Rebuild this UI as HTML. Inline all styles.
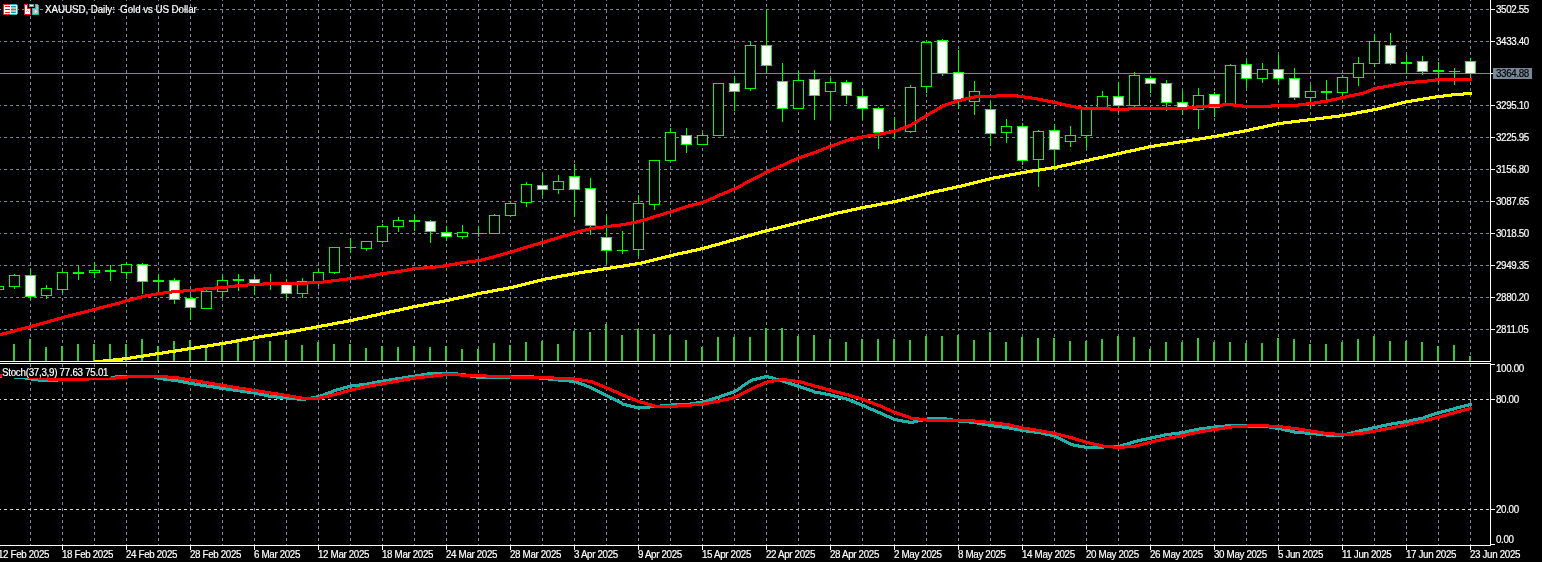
<!DOCTYPE html>
<html lang="en"><head><meta charset="utf-8"><title>XAUUSD, Daily</title>
<style>
html,body{margin:0;padding:0;background:#000;}
body{width:1542px;height:562px;overflow:hidden;position:relative;font-family:"Liberation Sans",sans-serif;}
svg{position:absolute;left:0;top:0;display:block}
#tx{position:absolute;left:0;top:0;width:1542px;height:562px;will-change:transform;transform:translateZ(0);}
.t{position:absolute;color:#fff;font-size:9.8px;line-height:11px;white-space:pre;letter-spacing:-0.35px;-webkit-text-stroke:0.18px currentColor;transform:scaleY(1.04);transform-origin:0 8.9px}
</style></head><body>
<svg width="1542" height="562" viewBox="0 0 1542 562" shape-rendering="crispEdges">
<rect width="1542" height="562" fill="#000"/>
<g stroke="#778899" stroke-width="1" stroke-dasharray="3 3" stroke-dashoffset="2" fill="none">
<line x1="30.5" y1="0" x2="30.5" y2="545"/>
<line x1="62.5" y1="0" x2="62.5" y2="545"/>
<line x1="94.5" y1="0" x2="94.5" y2="545"/>
<line x1="126.5" y1="0" x2="126.5" y2="545"/>
<line x1="158.5" y1="0" x2="158.5" y2="545"/>
<line x1="190.5" y1="0" x2="190.5" y2="545"/>
<line x1="222.5" y1="0" x2="222.5" y2="545"/>
<line x1="254.5" y1="0" x2="254.5" y2="545"/>
<line x1="286.5" y1="0" x2="286.5" y2="545"/>
<line x1="318.5" y1="0" x2="318.5" y2="545"/>
<line x1="350.5" y1="0" x2="350.5" y2="545"/>
<line x1="382.5" y1="0" x2="382.5" y2="545"/>
<line x1="414.5" y1="0" x2="414.5" y2="545"/>
<line x1="446.5" y1="0" x2="446.5" y2="545"/>
<line x1="478.5" y1="0" x2="478.5" y2="545"/>
<line x1="510.5" y1="0" x2="510.5" y2="545"/>
<line x1="542.5" y1="0" x2="542.5" y2="545"/>
<line x1="574.5" y1="0" x2="574.5" y2="545"/>
<line x1="606.5" y1="0" x2="606.5" y2="545"/>
<line x1="638.5" y1="0" x2="638.5" y2="545"/>
<line x1="670.5" y1="0" x2="670.5" y2="545"/>
<line x1="702.5" y1="0" x2="702.5" y2="545"/>
<line x1="734.5" y1="0" x2="734.5" y2="545"/>
<line x1="766.5" y1="0" x2="766.5" y2="545"/>
<line x1="798.5" y1="0" x2="798.5" y2="545"/>
<line x1="830.5" y1="0" x2="830.5" y2="545"/>
<line x1="862.5" y1="0" x2="862.5" y2="545"/>
<line x1="894.5" y1="0" x2="894.5" y2="545"/>
<line x1="926.5" y1="0" x2="926.5" y2="545"/>
<line x1="958.5" y1="0" x2="958.5" y2="545"/>
<line x1="990.5" y1="0" x2="990.5" y2="545"/>
<line x1="1022.5" y1="0" x2="1022.5" y2="545"/>
<line x1="1054.5" y1="0" x2="1054.5" y2="545"/>
<line x1="1086.5" y1="0" x2="1086.5" y2="545"/>
<line x1="1118.5" y1="0" x2="1118.5" y2="545"/>
<line x1="1150.5" y1="0" x2="1150.5" y2="545"/>
<line x1="1182.5" y1="0" x2="1182.5" y2="545"/>
<line x1="1214.5" y1="0" x2="1214.5" y2="545"/>
<line x1="1246.5" y1="0" x2="1246.5" y2="545"/>
<line x1="1278.5" y1="0" x2="1278.5" y2="545"/>
<line x1="1310.5" y1="0" x2="1310.5" y2="545"/>
<line x1="1342.5" y1="0" x2="1342.5" y2="545"/>
<line x1="1374.5" y1="0" x2="1374.5" y2="545"/>
<line x1="1406.5" y1="0" x2="1406.5" y2="545"/>
<line x1="1438.5" y1="0" x2="1438.5" y2="545"/>
<line x1="1470.5" y1="0" x2="1470.5" y2="545"/>
<line x1="0" y1="9.5" x2="1490" y2="9.5"/>
<line x1="0" y1="41.5" x2="1490" y2="41.5"/>
<line x1="0" y1="73.5" x2="1490" y2="73.5"/>
<line x1="0" y1="105.5" x2="1490" y2="105.5"/>
<line x1="0" y1="137.5" x2="1490" y2="137.5"/>
<line x1="0" y1="169.5" x2="1490" y2="169.5"/>
<line x1="0" y1="201.5" x2="1490" y2="201.5"/>
<line x1="0" y1="233.5" x2="1490" y2="233.5"/>
<line x1="0" y1="265.5" x2="1490" y2="265.5"/>
<line x1="0" y1="297.5" x2="1490" y2="297.5"/>
<line x1="0" y1="329.5" x2="1490" y2="329.5"/>
</g>
<g stroke="#d8d8d8" stroke-width="1" stroke-dasharray="3 3" stroke-dashoffset="2" fill="none">
<line x1="0" y1="399.5" x2="1490" y2="399.5"/>
<line x1="0" y1="509.5" x2="1490" y2="509.5"/>
</g>
<rect x="0" y="73" width="1490" height="1" fill="#778899"/>
<clipPath id="cm"><rect x="0" y="0" width="1490" height="361"/></clipPath>
<clipPath id="cs"><rect x="0" y="364" width="1490" height="181"/></clipPath>
<g clip-path="url(#cm)">
<rect x="13" y="344" width="2" height="17" fill="#32cd32"/>
<rect x="29" y="339" width="2" height="22" fill="#32cd32"/>
<rect x="45" y="347" width="2" height="14" fill="#32cd32"/>
<rect x="61" y="346" width="2" height="15" fill="#32cd32"/>
<rect x="77" y="344" width="2" height="17" fill="#32cd32"/>
<rect x="93" y="344" width="2" height="17" fill="#32cd32"/>
<rect x="109" y="344" width="2" height="17" fill="#32cd32"/>
<rect x="125" y="344" width="2" height="17" fill="#32cd32"/>
<rect x="141" y="339" width="2" height="22" fill="#32cd32"/>
<rect x="157" y="346" width="2" height="15" fill="#32cd32"/>
<rect x="173" y="341" width="2" height="20" fill="#32cd32"/>
<rect x="189" y="340" width="2" height="21" fill="#32cd32"/>
<rect x="205" y="347" width="2" height="14" fill="#32cd32"/>
<rect x="221" y="342" width="2" height="19" fill="#32cd32"/>
<rect x="237" y="342" width="2" height="19" fill="#32cd32"/>
<rect x="253" y="341" width="2" height="20" fill="#32cd32"/>
<rect x="269" y="341" width="2" height="20" fill="#32cd32"/>
<rect x="285" y="340" width="2" height="21" fill="#32cd32"/>
<rect x="301" y="345" width="2" height="16" fill="#32cd32"/>
<rect x="317" y="342" width="2" height="19" fill="#32cd32"/>
<rect x="333" y="344" width="2" height="17" fill="#32cd32"/>
<rect x="349" y="344" width="2" height="17" fill="#32cd32"/>
<rect x="365" y="348" width="2" height="13" fill="#32cd32"/>
<rect x="381" y="346" width="2" height="15" fill="#32cd32"/>
<rect x="397" y="347" width="2" height="14" fill="#32cd32"/>
<rect x="413" y="346" width="2" height="15" fill="#32cd32"/>
<rect x="429" y="347" width="2" height="14" fill="#32cd32"/>
<rect x="445" y="346" width="2" height="15" fill="#32cd32"/>
<rect x="461" y="349" width="2" height="12" fill="#32cd32"/>
<rect x="477" y="349" width="2" height="12" fill="#32cd32"/>
<rect x="493" y="343" width="2" height="18" fill="#32cd32"/>
<rect x="509" y="345" width="2" height="16" fill="#32cd32"/>
<rect x="525" y="342" width="2" height="19" fill="#32cd32"/>
<rect x="541" y="341" width="2" height="20" fill="#32cd32"/>
<rect x="557" y="344" width="2" height="17" fill="#32cd32"/>
<rect x="573" y="331" width="2" height="30" fill="#32cd32"/>
<rect x="589" y="332" width="2" height="29" fill="#32cd32"/>
<rect x="605" y="324" width="2" height="37" fill="#32cd32"/>
<rect x="621" y="335" width="2" height="26" fill="#32cd32"/>
<rect x="637" y="329" width="2" height="32" fill="#32cd32"/>
<rect x="653" y="334" width="2" height="27" fill="#32cd32"/>
<rect x="669" y="335" width="2" height="26" fill="#32cd32"/>
<rect x="685" y="340" width="2" height="21" fill="#32cd32"/>
<rect x="701" y="347" width="2" height="14" fill="#32cd32"/>
<rect x="717" y="337" width="2" height="24" fill="#32cd32"/>
<rect x="733" y="337" width="2" height="24" fill="#32cd32"/>
<rect x="749" y="337" width="2" height="24" fill="#32cd32"/>
<rect x="765" y="328" width="2" height="33" fill="#32cd32"/>
<rect x="781" y="328" width="2" height="33" fill="#32cd32"/>
<rect x="797" y="336" width="2" height="25" fill="#32cd32"/>
<rect x="813" y="335" width="2" height="26" fill="#32cd32"/>
<rect x="829" y="339" width="2" height="22" fill="#32cd32"/>
<rect x="845" y="342" width="2" height="19" fill="#32cd32"/>
<rect x="861" y="339" width="2" height="22" fill="#32cd32"/>
<rect x="877" y="339" width="2" height="22" fill="#32cd32"/>
<rect x="893" y="339" width="2" height="22" fill="#32cd32"/>
<rect x="909" y="340" width="2" height="21" fill="#32cd32"/>
<rect x="925" y="336" width="2" height="25" fill="#32cd32"/>
<rect x="941" y="336" width="2" height="25" fill="#32cd32"/>
<rect x="957" y="335" width="2" height="26" fill="#32cd32"/>
<rect x="973" y="340" width="2" height="21" fill="#32cd32"/>
<rect x="989" y="332" width="2" height="29" fill="#32cd32"/>
<rect x="1005" y="342" width="2" height="19" fill="#32cd32"/>
<rect x="1021" y="337" width="2" height="24" fill="#32cd32"/>
<rect x="1037" y="338" width="2" height="23" fill="#32cd32"/>
<rect x="1053" y="338" width="2" height="23" fill="#32cd32"/>
<rect x="1069" y="341" width="2" height="20" fill="#32cd32"/>
<rect x="1085" y="341" width="2" height="20" fill="#32cd32"/>
<rect x="1101" y="339" width="2" height="22" fill="#32cd32"/>
<rect x="1117" y="336" width="2" height="25" fill="#32cd32"/>
<rect x="1133" y="337" width="2" height="24" fill="#32cd32"/>
<rect x="1149" y="349" width="2" height="12" fill="#32cd32"/>
<rect x="1165" y="342" width="2" height="19" fill="#32cd32"/>
<rect x="1181" y="342" width="2" height="19" fill="#32cd32"/>
<rect x="1197" y="338" width="2" height="23" fill="#32cd32"/>
<rect x="1213" y="342" width="2" height="19" fill="#32cd32"/>
<rect x="1229" y="342" width="2" height="19" fill="#32cd32"/>
<rect x="1245" y="343" width="2" height="18" fill="#32cd32"/>
<rect x="1261" y="343" width="2" height="18" fill="#32cd32"/>
<rect x="1277" y="338" width="2" height="23" fill="#32cd32"/>
<rect x="1293" y="339" width="2" height="22" fill="#32cd32"/>
<rect x="1309" y="344" width="2" height="17" fill="#32cd32"/>
<rect x="1325" y="344" width="2" height="17" fill="#32cd32"/>
<rect x="1341" y="342" width="2" height="19" fill="#32cd32"/>
<rect x="1357" y="339" width="2" height="22" fill="#32cd32"/>
<rect x="1373" y="336" width="2" height="25" fill="#32cd32"/>
<rect x="1389" y="341" width="2" height="20" fill="#32cd32"/>
<rect x="1405" y="341" width="2" height="20" fill="#32cd32"/>
<rect x="1421" y="342" width="2" height="19" fill="#32cd32"/>
<rect x="1437" y="346" width="2" height="15" fill="#32cd32"/>
<rect x="1453" y="345" width="2" height="16" fill="#32cd32"/>
<rect x="1469" y="356" width="2" height="5" fill="#32cd32"/>
<rect x="-2" y="284" width="1" height="9" fill="#00ff00"/>
<rect x="-7" y="286" width="11" height="4" fill="#00ff00"/>
<rect x="-6" y="287" width="9" height="2" fill="#000"/>
<rect x="14" y="274" width="1" height="15" fill="#00ff00"/>
<rect x="9" y="275" width="11" height="12" fill="#00ff00"/>
<rect x="10" y="276" width="9" height="10" fill="#000"/>
<rect x="30" y="269" width="1" height="31" fill="#00ff00"/>
<rect x="25" y="275" width="11" height="22" fill="#00ff00"/>
<rect x="26" y="276" width="9" height="20" fill="#fff"/>
<rect x="46" y="285" width="1" height="14" fill="#00ff00"/>
<rect x="41" y="288" width="11" height="8" fill="#00ff00"/>
<rect x="42" y="289" width="9" height="6" fill="#000"/>
<rect x="62" y="271" width="1" height="22" fill="#00ff00"/>
<rect x="57" y="272" width="11" height="18" fill="#00ff00"/>
<rect x="58" y="273" width="9" height="16" fill="#000"/>
<rect x="78" y="266" width="1" height="14" fill="#00ff00"/>
<rect x="73" y="272" width="11" height="2" fill="#00ff00"/>
<rect x="94" y="262" width="1" height="16" fill="#00ff00"/>
<rect x="89" y="270" width="11" height="3" fill="#00ff00"/>
<rect x="90" y="271" width="9" height="1" fill="#000"/>
<rect x="110" y="265" width="1" height="16" fill="#00ff00"/>
<rect x="105" y="270" width="11" height="2" fill="#00ff00"/>
<rect x="126" y="262" width="1" height="17" fill="#00ff00"/>
<rect x="121" y="264" width="11" height="9" fill="#00ff00"/>
<rect x="122" y="265" width="9" height="7" fill="#000"/>
<rect x="142" y="263" width="1" height="31" fill="#00ff00"/>
<rect x="137" y="264" width="11" height="18" fill="#00ff00"/>
<rect x="138" y="265" width="9" height="16" fill="#fff"/>
<rect x="158" y="274" width="1" height="18" fill="#00ff00"/>
<rect x="153" y="280" width="11" height="2" fill="#00ff00"/>
<rect x="174" y="278" width="1" height="26" fill="#00ff00"/>
<rect x="169" y="280" width="11" height="20" fill="#00ff00"/>
<rect x="170" y="281" width="9" height="18" fill="#fff"/>
<rect x="190" y="295" width="1" height="25" fill="#00ff00"/>
<rect x="185" y="298" width="11" height="10" fill="#00ff00"/>
<rect x="186" y="299" width="9" height="8" fill="#fff"/>
<rect x="206" y="290" width="1" height="19" fill="#00ff00"/>
<rect x="201" y="291" width="11" height="18" fill="#00ff00"/>
<rect x="202" y="292" width="9" height="16" fill="#000"/>
<rect x="222" y="275" width="1" height="22" fill="#00ff00"/>
<rect x="217" y="280" width="11" height="12" fill="#00ff00"/>
<rect x="218" y="281" width="9" height="10" fill="#000"/>
<rect x="238" y="274" width="1" height="17" fill="#00ff00"/>
<rect x="233" y="279" width="11" height="2" fill="#00ff00"/>
<rect x="254" y="276" width="1" height="19" fill="#00ff00"/>
<rect x="249" y="279" width="11" height="7" fill="#00ff00"/>
<rect x="250" y="280" width="9" height="5" fill="#fff"/>
<rect x="270" y="274" width="1" height="16" fill="#00ff00"/>
<rect x="265" y="283" width="11" height="1" fill="#00ff00"/>
<rect x="286" y="279" width="1" height="19" fill="#00ff00"/>
<rect x="281" y="283" width="11" height="11" fill="#00ff00"/>
<rect x="282" y="284" width="9" height="9" fill="#fff"/>
<rect x="302" y="278" width="1" height="20" fill="#00ff00"/>
<rect x="297" y="281" width="11" height="13" fill="#00ff00"/>
<rect x="298" y="282" width="9" height="11" fill="#000"/>
<rect x="318" y="269" width="1" height="17" fill="#00ff00"/>
<rect x="313" y="272" width="11" height="12" fill="#00ff00"/>
<rect x="314" y="273" width="9" height="10" fill="#000"/>
<rect x="334" y="247" width="1" height="27" fill="#00ff00"/>
<rect x="329" y="247" width="11" height="26" fill="#00ff00"/>
<rect x="330" y="248" width="9" height="24" fill="#000"/>
<rect x="350" y="238" width="1" height="15" fill="#00ff00"/>
<rect x="345" y="247" width="11" height="1" fill="#00ff00"/>
<rect x="366" y="241" width="1" height="10" fill="#00ff00"/>
<rect x="361" y="241" width="11" height="8" fill="#00ff00"/>
<rect x="362" y="242" width="9" height="6" fill="#000"/>
<rect x="382" y="224" width="1" height="19" fill="#00ff00"/>
<rect x="377" y="226" width="11" height="16" fill="#00ff00"/>
<rect x="378" y="227" width="9" height="14" fill="#000"/>
<rect x="398" y="217" width="1" height="15" fill="#00ff00"/>
<rect x="393" y="220" width="11" height="7" fill="#00ff00"/>
<rect x="394" y="221" width="9" height="5" fill="#000"/>
<rect x="414" y="215" width="1" height="16" fill="#00ff00"/>
<rect x="409" y="220" width="11" height="2" fill="#00ff00"/>
<rect x="430" y="220" width="1" height="23" fill="#00ff00"/>
<rect x="425" y="221" width="11" height="11" fill="#00ff00"/>
<rect x="426" y="222" width="9" height="9" fill="#fff"/>
<rect x="446" y="226" width="1" height="15" fill="#00ff00"/>
<rect x="441" y="232" width="11" height="5" fill="#00ff00"/>
<rect x="442" y="233" width="9" height="3" fill="#fff"/>
<rect x="462" y="225" width="1" height="14" fill="#00ff00"/>
<rect x="457" y="232" width="11" height="5" fill="#00ff00"/>
<rect x="458" y="233" width="9" height="3" fill="#000"/>
<rect x="478" y="227" width="1" height="10" fill="#00ff00"/>
<rect x="473" y="233" width="11" height="1" fill="#00ff00"/>
<rect x="494" y="214" width="1" height="20" fill="#00ff00"/>
<rect x="489" y="215" width="11" height="19" fill="#00ff00"/>
<rect x="490" y="216" width="9" height="17" fill="#000"/>
<rect x="510" y="201" width="1" height="16" fill="#00ff00"/>
<rect x="505" y="203" width="11" height="13" fill="#00ff00"/>
<rect x="506" y="204" width="9" height="11" fill="#000"/>
<rect x="526" y="182" width="1" height="25" fill="#00ff00"/>
<rect x="521" y="184" width="11" height="19" fill="#00ff00"/>
<rect x="522" y="185" width="9" height="17" fill="#000"/>
<rect x="542" y="173" width="1" height="23" fill="#00ff00"/>
<rect x="537" y="185" width="11" height="5" fill="#00ff00"/>
<rect x="538" y="186" width="9" height="3" fill="#fff"/>
<rect x="558" y="175" width="1" height="19" fill="#00ff00"/>
<rect x="553" y="181" width="11" height="9" fill="#00ff00"/>
<rect x="554" y="182" width="9" height="7" fill="#000"/>
<rect x="574" y="164" width="1" height="53" fill="#00ff00"/>
<rect x="569" y="176" width="11" height="14" fill="#00ff00"/>
<rect x="570" y="177" width="9" height="12" fill="#fff"/>
<rect x="590" y="178" width="1" height="57" fill="#00ff00"/>
<rect x="585" y="188" width="11" height="38" fill="#00ff00"/>
<rect x="586" y="189" width="9" height="36" fill="#fff"/>
<rect x="606" y="216" width="1" height="47" fill="#00ff00"/>
<rect x="601" y="237" width="11" height="14" fill="#00ff00"/>
<rect x="602" y="238" width="9" height="12" fill="#fff"/>
<rect x="622" y="231" width="1" height="23" fill="#00ff00"/>
<rect x="617" y="250" width="11" height="1" fill="#00ff00"/>
<rect x="638" y="195" width="1" height="61" fill="#00ff00"/>
<rect x="633" y="203" width="11" height="47" fill="#00ff00"/>
<rect x="634" y="204" width="9" height="45" fill="#000"/>
<rect x="654" y="160" width="1" height="50" fill="#00ff00"/>
<rect x="649" y="160" width="11" height="45" fill="#00ff00"/>
<rect x="650" y="161" width="9" height="43" fill="#000"/>
<rect x="670" y="128" width="1" height="33" fill="#00ff00"/>
<rect x="665" y="132" width="11" height="29" fill="#00ff00"/>
<rect x="666" y="133" width="9" height="27" fill="#000"/>
<rect x="686" y="128" width="1" height="25" fill="#00ff00"/>
<rect x="681" y="135" width="11" height="10" fill="#00ff00"/>
<rect x="682" y="136" width="9" height="8" fill="#fff"/>
<rect x="702" y="133" width="1" height="12" fill="#00ff00"/>
<rect x="697" y="135" width="11" height="10" fill="#00ff00"/>
<rect x="698" y="136" width="9" height="8" fill="#000"/>
<rect x="718" y="83" width="1" height="53" fill="#00ff00"/>
<rect x="713" y="83" width="11" height="53" fill="#00ff00"/>
<rect x="714" y="84" width="9" height="51" fill="#000"/>
<rect x="734" y="76" width="1" height="35" fill="#00ff00"/>
<rect x="729" y="83" width="11" height="9" fill="#00ff00"/>
<rect x="730" y="84" width="9" height="7" fill="#fff"/>
<rect x="750" y="42" width="1" height="49" fill="#00ff00"/>
<rect x="745" y="45" width="11" height="44" fill="#00ff00"/>
<rect x="746" y="46" width="9" height="42" fill="#000"/>
<rect x="766" y="10" width="1" height="63" fill="#00ff00"/>
<rect x="761" y="45" width="11" height="21" fill="#00ff00"/>
<rect x="762" y="46" width="9" height="19" fill="#fff"/>
<rect x="782" y="63" width="1" height="59" fill="#00ff00"/>
<rect x="777" y="81" width="11" height="28" fill="#00ff00"/>
<rect x="778" y="82" width="9" height="26" fill="#fff"/>
<rect x="798" y="71" width="1" height="38" fill="#00ff00"/>
<rect x="793" y="80" width="11" height="29" fill="#00ff00"/>
<rect x="794" y="81" width="9" height="27" fill="#000"/>
<rect x="814" y="70" width="1" height="50" fill="#00ff00"/>
<rect x="809" y="79" width="11" height="17" fill="#00ff00"/>
<rect x="810" y="80" width="9" height="15" fill="#fff"/>
<rect x="830" y="78" width="1" height="42" fill="#00ff00"/>
<rect x="825" y="82" width="11" height="10" fill="#00ff00"/>
<rect x="826" y="83" width="9" height="8" fill="#000"/>
<rect x="846" y="80" width="1" height="24" fill="#00ff00"/>
<rect x="841" y="82" width="11" height="14" fill="#00ff00"/>
<rect x="842" y="83" width="9" height="12" fill="#fff"/>
<rect x="862" y="89" width="1" height="31" fill="#00ff00"/>
<rect x="857" y="96" width="11" height="13" fill="#00ff00"/>
<rect x="858" y="97" width="9" height="11" fill="#fff"/>
<rect x="878" y="107" width="1" height="42" fill="#00ff00"/>
<rect x="873" y="108" width="11" height="25" fill="#00ff00"/>
<rect x="874" y="109" width="9" height="23" fill="#fff"/>
<rect x="894" y="117" width="1" height="22" fill="#00ff00"/>
<rect x="889" y="130" width="11" height="1" fill="#00ff00"/>
<rect x="910" y="85" width="1" height="48" fill="#00ff00"/>
<rect x="905" y="87" width="11" height="45" fill="#00ff00"/>
<rect x="906" y="88" width="9" height="43" fill="#000"/>
<rect x="926" y="40" width="1" height="53" fill="#00ff00"/>
<rect x="921" y="42" width="11" height="45" fill="#00ff00"/>
<rect x="922" y="43" width="9" height="43" fill="#000"/>
<rect x="942" y="39" width="1" height="37" fill="#00ff00"/>
<rect x="937" y="40" width="11" height="34" fill="#00ff00"/>
<rect x="938" y="41" width="9" height="32" fill="#fff"/>
<rect x="958" y="50" width="1" height="59" fill="#00ff00"/>
<rect x="953" y="72" width="11" height="28" fill="#00ff00"/>
<rect x="954" y="73" width="9" height="26" fill="#fff"/>
<rect x="974" y="81" width="1" height="34" fill="#00ff00"/>
<rect x="969" y="91" width="11" height="11" fill="#00ff00"/>
<rect x="970" y="92" width="9" height="9" fill="#000"/>
<rect x="990" y="102" width="1" height="44" fill="#00ff00"/>
<rect x="985" y="109" width="11" height="25" fill="#00ff00"/>
<rect x="986" y="110" width="9" height="23" fill="#fff"/>
<rect x="1006" y="119" width="1" height="24" fill="#00ff00"/>
<rect x="1001" y="126" width="11" height="7" fill="#00ff00"/>
<rect x="1002" y="127" width="9" height="5" fill="#000"/>
<rect x="1022" y="123" width="1" height="42" fill="#00ff00"/>
<rect x="1017" y="126" width="11" height="35" fill="#00ff00"/>
<rect x="1018" y="127" width="9" height="33" fill="#fff"/>
<rect x="1038" y="130" width="1" height="57" fill="#00ff00"/>
<rect x="1033" y="131" width="11" height="29" fill="#00ff00"/>
<rect x="1034" y="132" width="9" height="27" fill="#000"/>
<rect x="1054" y="124" width="1" height="47" fill="#00ff00"/>
<rect x="1049" y="130" width="11" height="20" fill="#00ff00"/>
<rect x="1050" y="131" width="9" height="18" fill="#fff"/>
<rect x="1070" y="126" width="1" height="21" fill="#00ff00"/>
<rect x="1065" y="135" width="11" height="7" fill="#00ff00"/>
<rect x="1066" y="136" width="9" height="5" fill="#000"/>
<rect x="1086" y="105" width="1" height="43" fill="#00ff00"/>
<rect x="1081" y="109" width="11" height="27" fill="#00ff00"/>
<rect x="1082" y="110" width="9" height="25" fill="#000"/>
<rect x="1102" y="91" width="1" height="17" fill="#00ff00"/>
<rect x="1097" y="96" width="11" height="12" fill="#00ff00"/>
<rect x="1098" y="97" width="9" height="10" fill="#000"/>
<rect x="1118" y="82" width="1" height="31" fill="#00ff00"/>
<rect x="1113" y="96" width="11" height="10" fill="#00ff00"/>
<rect x="1114" y="97" width="9" height="8" fill="#fff"/>
<rect x="1134" y="72" width="1" height="36" fill="#00ff00"/>
<rect x="1129" y="75" width="11" height="31" fill="#00ff00"/>
<rect x="1130" y="76" width="9" height="29" fill="#000"/>
<rect x="1150" y="76" width="1" height="17" fill="#00ff00"/>
<rect x="1145" y="78" width="11" height="6" fill="#00ff00"/>
<rect x="1146" y="79" width="9" height="4" fill="#fff"/>
<rect x="1166" y="80" width="1" height="31" fill="#00ff00"/>
<rect x="1161" y="83" width="11" height="20" fill="#00ff00"/>
<rect x="1162" y="84" width="9" height="18" fill="#fff"/>
<rect x="1182" y="91" width="1" height="24" fill="#00ff00"/>
<rect x="1177" y="102" width="11" height="6" fill="#00ff00"/>
<rect x="1178" y="103" width="9" height="4" fill="#fff"/>
<rect x="1198" y="88" width="1" height="41" fill="#00ff00"/>
<rect x="1193" y="95" width="11" height="15" fill="#00ff00"/>
<rect x="1194" y="96" width="9" height="13" fill="#000"/>
<rect x="1214" y="92" width="1" height="25" fill="#00ff00"/>
<rect x="1209" y="94" width="11" height="14" fill="#00ff00"/>
<rect x="1210" y="95" width="9" height="12" fill="#fff"/>
<rect x="1230" y="64" width="1" height="41" fill="#00ff00"/>
<rect x="1225" y="65" width="11" height="40" fill="#00ff00"/>
<rect x="1226" y="66" width="9" height="38" fill="#000"/>
<rect x="1246" y="60" width="1" height="28" fill="#00ff00"/>
<rect x="1241" y="64" width="11" height="15" fill="#00ff00"/>
<rect x="1242" y="65" width="9" height="13" fill="#fff"/>
<rect x="1262" y="63" width="1" height="20" fill="#00ff00"/>
<rect x="1257" y="69" width="11" height="10" fill="#00ff00"/>
<rect x="1258" y="70" width="9" height="8" fill="#000"/>
<rect x="1278" y="55" width="1" height="30" fill="#00ff00"/>
<rect x="1273" y="69" width="11" height="10" fill="#00ff00"/>
<rect x="1274" y="70" width="9" height="8" fill="#fff"/>
<rect x="1294" y="68" width="1" height="32" fill="#00ff00"/>
<rect x="1289" y="78" width="11" height="20" fill="#00ff00"/>
<rect x="1290" y="79" width="9" height="18" fill="#fff"/>
<rect x="1310" y="85" width="1" height="22" fill="#00ff00"/>
<rect x="1305" y="91" width="11" height="7" fill="#00ff00"/>
<rect x="1306" y="92" width="9" height="5" fill="#000"/>
<rect x="1326" y="80" width="1" height="21" fill="#00ff00"/>
<rect x="1321" y="91" width="11" height="2" fill="#00ff00"/>
<rect x="1342" y="75" width="1" height="21" fill="#00ff00"/>
<rect x="1337" y="77" width="11" height="16" fill="#00ff00"/>
<rect x="1338" y="78" width="9" height="14" fill="#000"/>
<rect x="1358" y="57" width="1" height="29" fill="#00ff00"/>
<rect x="1353" y="63" width="11" height="15" fill="#00ff00"/>
<rect x="1354" y="64" width="9" height="13" fill="#000"/>
<rect x="1374" y="35" width="1" height="32" fill="#00ff00"/>
<rect x="1369" y="41" width="11" height="23" fill="#00ff00"/>
<rect x="1370" y="42" width="9" height="21" fill="#000"/>
<rect x="1390" y="33" width="1" height="32" fill="#00ff00"/>
<rect x="1385" y="45" width="11" height="19" fill="#00ff00"/>
<rect x="1386" y="46" width="9" height="17" fill="#fff"/>
<rect x="1406" y="55" width="1" height="18" fill="#00ff00"/>
<rect x="1401" y="62" width="11" height="2" fill="#00ff00"/>
<rect x="1422" y="56" width="1" height="19" fill="#00ff00"/>
<rect x="1417" y="61" width="11" height="11" fill="#00ff00"/>
<rect x="1418" y="62" width="9" height="9" fill="#fff"/>
<rect x="1438" y="62" width="1" height="22" fill="#00ff00"/>
<rect x="1433" y="70" width="11" height="2" fill="#00ff00"/>
<rect x="1454" y="68" width="1" height="17" fill="#00ff00"/>
<rect x="1449" y="71" width="11" height="1" fill="#00ff00"/>
<rect x="1470" y="58" width="1" height="22" fill="#00ff00"/>
<rect x="1465" y="61" width="11" height="13" fill="#00ff00"/>
<rect x="1466" y="62" width="9" height="11" fill="#fff"/>
<path d="M62 364h5v3h-5zM66 363h10v3h-10zM75 362h11v3h-11zM85 361h10v3h-10zM94 360h10v3h-10zM103 359h11v3h-11zM113 358h10v3h-10zM122 357h9v3h-9zM130 356h7v3h-7zM136 355h8v3h-8zM143 354h7v3h-7zM149 353h7v3h-7zM155 352h8v3h-8zM162 351h7v3h-7zM168 350h8v3h-8zM175 349h7v3h-7zM181 348h7v3h-7zM187 347h8v3h-8zM194 346h7v3h-7zM200 345h8v3h-8zM207 344h7v3h-7zM213 343h7v3h-7zM219 342h7v3h-7zM225 341h7v3h-7zM231 340h6v3h-6zM236 339h6v3h-6zM241 338h7v3h-7zM247 337h6v3h-6zM252 336h7v3h-7zM258 335h7v3h-7zM264 334h8v3h-8zM271 333h7v3h-7zM277 332h7v3h-7zM283 331h7v3h-7zM289 330h7v3h-7zM295 329h6v3h-6zM300 328h6v3h-6zM305 327h7v3h-7zM311 326h6v3h-6zM316 325h6v3h-6zM321 324h7v3h-7zM327 323h6v3h-6zM332 322h6v3h-6zM337 321h7v3h-7zM343 320h6v3h-6zM348 319h6v3h-6zM353 318h5v3h-5zM357 317h6v3h-6zM362 316h6v3h-6zM367 315h5v3h-5zM371 314h6v3h-6zM376 313h5v3h-5zM380 312h6v3h-6zM385 311h5v3h-5zM389 310h6v3h-6zM394 309h6v3h-6zM399 308h5v3h-5zM403 307h6v3h-6zM408 306h5v3h-5zM412 305h6v3h-6zM417 304h7v3h-7zM423 303h6v3h-6zM428 302h6v3h-6zM433 301h7v3h-7zM439 300h6v3h-6zM444 299h6v3h-6zM449 298h5v3h-5zM453 297h6v3h-6zM458 296h6v3h-6zM463 295h5v3h-5zM467 294h6v3h-6zM472 293h5v3h-5zM476 292h6v3h-6zM481 291h7v3h-7zM487 290h6v3h-6zM492 289h6v3h-6zM497 288h7v3h-7zM503 287h6v3h-6zM508 286h6v3h-6zM513 285h5v3h-5zM517 284h5v3h-5zM521 283h5v3h-5zM525 282h5v3h-5zM529 281h5v3h-5zM533 280h5v3h-5zM537 279h5v3h-5zM541 278h5v3h-5zM545 277h7v3h-7zM551 276h6v3h-6zM556 275h6v3h-6zM561 274h7v3h-7zM567 273h6v3h-6zM572 272h7v3h-7zM578 271h7v3h-7zM584 270h8v3h-8zM591 269h7v3h-7zM597 268h7v3h-7zM603 267h8v3h-8zM610 266h7v3h-7zM616 265h8v3h-8zM623 264h7v3h-7zM629 263h7v3h-7zM635 262h7v3h-7zM641 261h5v3h-5zM645 260h5v3h-5zM649 259h5v3h-5zM653 258h5v3h-5zM657 257h5v3h-5zM661 256h5v3h-5zM665 255h5v3h-5zM669 254h5v3h-5zM673 253h5v3h-5zM677 252h6v3h-6zM682 251h6v3h-6zM687 250h5v3h-5zM691 249h6v3h-6zM696 248h5v3h-5zM700 247h5v3h-5zM704 246h5v3h-5zM708 245h4v3h-4zM711 244h5v3h-5zM715 243h5v3h-5zM719 242h4v3h-4zM722 241h5v3h-5zM726 240h4v3h-4zM729 239h5v3h-5zM733 238h4v3h-4zM736 237h5v3h-5zM740 236h4v3h-4zM743 235h5v3h-5zM747 234h5v3h-5zM751 233h4v3h-4zM754 232h5v3h-5zM758 231h4v3h-4zM761 230h5v3h-5zM765 229h5v3h-5zM769 228h5v3h-5zM773 227h5v3h-5zM777 226h5v3h-5zM781 225h5v3h-5zM785 224h5v3h-5zM789 223h5v3h-5zM793 222h5v3h-5zM797 221h5v3h-5zM801 220h5v3h-5zM805 219h5v3h-5zM809 218h5v3h-5zM813 217h5v3h-5zM817 216h5v3h-5zM821 215h5v3h-5zM825 214h5v3h-5zM829 213h5v3h-5zM833 212h5v3h-5zM837 211h6v3h-6zM842 210h6v3h-6zM847 209h5v3h-5zM851 208h6v3h-6zM856 207h5v3h-5zM860 206h6v3h-6zM865 205h7v3h-7zM871 204h6v3h-6zM876 203h6v3h-6zM881 202h7v3h-7zM887 201h6v3h-6zM892 200h6v3h-6zM897 199h5v3h-5zM901 198h5v3h-5zM905 197h5v3h-5zM909 196h5v3h-5zM913 195h5v3h-5zM917 194h5v3h-5zM921 193h5v3h-5zM925 192h5v3h-5zM929 191h5v3h-5zM933 190h6v3h-6zM938 189h6v3h-6zM943 188h5v3h-5zM947 187h6v3h-6zM952 186h5v3h-5zM956 185h6v3h-6zM961 184h5v3h-5zM965 183h5v3h-5zM969 182h5v3h-5zM973 181h5v3h-5zM977 180h5v3h-5zM981 179h5v3h-5zM985 178h5v3h-5zM989 177h5v3h-5zM993 176h7v3h-7zM999 175h6v3h-6zM1004 174h6v3h-6zM1009 173h7v3h-7zM1015 172h6v3h-6zM1020 171h7v3h-7zM1026 170h7v3h-7zM1032 169h8v3h-8zM1039 168h7v3h-7zM1045 167h7v3h-7zM1051 166h7v3h-7zM1057 165h5v3h-5zM1061 164h6v3h-6zM1066 163h6v3h-6zM1071 162h5v3h-5zM1075 161h6v3h-6zM1080 160h5v3h-5zM1084 159h6v3h-6zM1089 158h5v3h-5zM1093 157h6v3h-6zM1098 156h6v3h-6zM1103 155h5v3h-5zM1107 154h6v3h-6zM1112 153h5v3h-5zM1116 152h6v3h-6zM1121 151h5v3h-5zM1125 150h6v3h-6zM1130 149h6v3h-6zM1135 148h5v3h-5zM1139 147h6v3h-6zM1144 146h5v3h-5zM1148 145h7v3h-7zM1154 144h7v3h-7zM1160 143h8v3h-8zM1167 142h7v3h-7zM1173 141h7v3h-7zM1179 140h8v3h-8zM1186 139h7v3h-7zM1192 138h8v3h-8zM1199 137h7v3h-7zM1205 136h7v3h-7zM1211 135h7v3h-7zM1217 134h7v3h-7zM1223 133h6v3h-6zM1228 132h6v3h-6zM1233 131h7v3h-7zM1239 130h6v3h-6zM1244 129h6v3h-6zM1249 128h5v3h-5zM1253 127h6v3h-6zM1258 126h6v3h-6zM1263 125h5v3h-5zM1267 124h6v3h-6zM1272 123h5v3h-5zM1276 122h8v3h-8zM1283 121h9v3h-9zM1291 120h9v3h-9zM1299 119h9v3h-9zM1307 118h9v3h-9zM1315 117h9v3h-9zM1323 116h9v3h-9zM1331 115h9v3h-9zM1339 114h7v3h-7zM1345 113h7v3h-7zM1351 112h6v3h-6zM1356 111h6v3h-6zM1361 110h7v3h-7zM1367 109h6v3h-6zM1372 108h6v3h-6zM1377 107h5v3h-5zM1381 106h5v3h-5zM1385 105h5v3h-5zM1389 104h5v3h-5zM1393 103h5v3h-5zM1397 102h5v3h-5zM1401 101h5v3h-5zM1405 100h7v3h-7zM1411 99h7v3h-7zM1417 98h7v3h-7zM1423 97h7v3h-7zM1429 96h7v3h-7zM1435 95h9v3h-9zM1443 94h9v3h-9zM1451 93h13v3h-13zM1463 92h9v3h-9z" fill="#ffff00"/>
<path d="M-2 334h2v3h-2zM-1 333h4v3h-4zM2 332h5v3h-5zM6 331h5v3h-5zM10 330h5v3h-5zM14 329h4v3h-4zM17 328h5v3h-5zM21 327h5v3h-5zM25 326h5v3h-5zM29 325h4v3h-4zM32 324h5v3h-5zM36 323h4v3h-4zM39 322h5v3h-5zM43 321h5v3h-5zM47 320h4v3h-4zM50 319h5v3h-5zM54 318h4v3h-4zM57 317h5v3h-5zM61 316h4v3h-4zM64 315h5v3h-5zM68 314h5v3h-5zM72 313h5v3h-5zM76 312h5v3h-5zM80 311h5v3h-5zM84 310h5v3h-5zM88 309h5v3h-5zM92 308h5v3h-5zM96 307h4v3h-4zM99 306h5v3h-5zM103 305h5v3h-5zM107 304h5v3h-5zM111 303h5v3h-5zM115 302h5v3h-5zM119 301h4v3h-4zM122 300h4v3h-4zM125 299h5v3h-5zM129 298h5v3h-5zM133 297h5v3h-5zM137 296h5v3h-5zM141 295h5v3h-5zM145 294h7v3h-7zM151 293h6v3h-6zM156 292h8v3h-8zM163 291h9v3h-9zM171 290h13v3h-13zM183 289h13v3h-13zM195 288h9v3h-9zM203 287h13v3h-13zM215 286h13v3h-13zM227 285h9v3h-9zM235 284h13v3h-13zM247 283h17v3h-17zM263 282h45v3h-45zM307 281h17v3h-17zM323 280h9v3h-9zM331 279h9v3h-9zM339 278h9v3h-9zM347 277h9v3h-9zM355 276h9v3h-9zM363 275h7v3h-7zM369 274h7v3h-7zM375 273h6v3h-6zM380 272h8v3h-8zM387 271h9v3h-9zM395 270h7v3h-7zM401 269h7v3h-7zM407 268h6v3h-6zM412 267h12v3h-12zM423 266h13v3h-13zM435 265h9v3h-9zM443 264h7v3h-7zM449 263h7v3h-7zM455 262h6v3h-6zM460 261h8v3h-8zM467 260h9v3h-9zM475 259h7v3h-7zM481 258h5v3h-5zM485 257h5v3h-5zM489 256h5v3h-5zM493 255h4v3h-4zM496 254h5v3h-5zM500 253h4v3h-4zM503 252h5v3h-5zM507 251h5v3h-5zM511 250h4v3h-4zM514 249h4v3h-4zM517 248h4v3h-4zM520 247h4v3h-4zM523 246h5v3h-5zM527 245h4v3h-4zM530 244h4v3h-4zM533 243h5v3h-5zM537 242h4v3h-4zM540 241h5v3h-5zM544 240h4v3h-4zM547 239h4v3h-4zM550 238h5v3h-5zM554 237h4v3h-4zM557 236h4v3h-4zM560 235h4v3h-4zM563 234h5v3h-5zM567 233h4v3h-4zM570 232h4v3h-4zM573 231h5v3h-5zM577 230h5v3h-5zM581 229h5v3h-5zM585 228h5v3h-5zM589 227h7v3h-7zM595 226h9v3h-9zM603 225h9v3h-9zM611 224h10v3h-10zM620 223h7v3h-7zM626 222h6v3h-6zM631 221h6v3h-6zM636 220h5v3h-5zM640 219h4v3h-4zM643 218h5v3h-5zM647 217h4v3h-4zM650 216h4v3h-4zM653 215h4v3h-4zM656 214h5v3h-5zM660 213h4v3h-4zM663 212h4v3h-4zM666 211h5v3h-5zM670 210h4v3h-4zM673 209h4v3h-4zM676 208h4v3h-4zM679 207h4v3h-4zM682 206h4v3h-4zM685 205h4v3h-4zM688 204h5v3h-5zM692 203h5v3h-5zM696 202h5v3h-5zM700 201h4v3h-4zM703 200h4v3h-4zM706 199h3v3h-3zM708 198h3v3h-3zM710 197h4v3h-4zM713 196h3v3h-3zM715 195h3v3h-3zM717 194h3v3h-3zM719 193h4v3h-4zM722 192h3v3h-3zM724 191h4v3h-4zM727 190h3v3h-3zM729 189h3v3h-3zM731 188h4v3h-4zM734 187h3v3h-3zM736 186h3v3h-3zM738 185h3v3h-3zM740 184h3v3h-3zM742 183h2v3h-2zM743 182h3v3h-3zM745 181h3v3h-3zM747 180h3v3h-3zM749 179h3v3h-3zM751 178h3v3h-3zM753 177h3v3h-3zM755 176h3v3h-3zM757 175h3v3h-3zM759 174h3v3h-3zM761 173h3v3h-3zM763 172h2v3h-2zM764 171h3v3h-3zM766 170h4v3h-4zM769 169h3v3h-3zM771 168h3v3h-3zM773 167h4v3h-4zM776 166h3v3h-3zM778 165h3v3h-3zM780 164h4v3h-4zM783 163h3v3h-3zM785 162h3v3h-3zM787 161h3v3h-3zM789 160h3v3h-3zM791 159h4v3h-4zM794 158h3v3h-3zM796 157h3v3h-3zM798 156h4v3h-4zM801 155h4v3h-4zM804 154h4v3h-4zM807 153h4v3h-4zM810 152h4v3h-4zM813 151h4v3h-4zM816 150h3v3h-3zM818 149h4v3h-4zM821 148h3v3h-3zM823 147h4v3h-4zM826 146h3v3h-3zM828 145h4v3h-4zM831 144h4v3h-4zM834 143h4v3h-4zM837 142h3v3h-3zM839 141h4v3h-4zM842 140h4v3h-4zM845 139h4v3h-4zM848 138h6v3h-6zM853 137h5v3h-5zM857 136h6v3h-6zM862 135h6v3h-6zM867 134h8v3h-8zM874 133h7v3h-7zM880 132h6v3h-6zM885 131h6v3h-6zM890 130h6v3h-6zM895 129h4v3h-4zM898 128h3v3h-3zM900 127h4v3h-4zM903 126h4v3h-4zM906 125h3v3h-3zM908 124h4v3h-4zM911 123h2v3h-2zM912 122h3v3h-3zM914 121h3v3h-3zM916 120h2v3h-2zM917 119h3v3h-3zM919 118h2v3h-2zM920 117h3v3h-3zM922 116h3v3h-3zM924 115h2v3h-2zM925 114h3v3h-3zM927 113h3v3h-3zM929 112h2v3h-2zM930 111h3v3h-3zM932 110h3v3h-3zM934 109h3v3h-3zM936 108h2v3h-2zM937 107h3v3h-3zM939 106h3v3h-3zM941 105h2v3h-2zM942 104h4v3h-4zM945 103h4v3h-4zM948 102h4v3h-4zM951 101h4v3h-4zM954 100h4v3h-4zM957 99h5v3h-5zM961 98h5v3h-5zM965 97h6v3h-6zM970 96h5v3h-5zM974 95h23v3h-23zM996 94h22v3h-22zM1017 95h8v3h-8zM1024 96h8v3h-8zM1031 97h7v3h-7zM1037 98h6v3h-6zM1042 99h6v3h-6zM1047 100h6v3h-6zM1052 101h6v3h-6zM1057 102h5v3h-5zM1061 103h5v3h-5zM1065 104h6v3h-6zM1070 105h6v3h-6zM1075 106h7v3h-7zM1081 107h30v3h-30zM1110 108h19v3h-19zM1128 107h60v3h-60zM1187 106h10v3h-10zM1196 105h13v3h-13zM1208 104h15v3h-15zM1222 103h12v3h-12zM1233 104h10v3h-10zM1242 105h30v3h-30zM1271 104h28v3h-28zM1298 103h9v3h-9zM1306 102h9v3h-9zM1314 101h7v3h-7zM1320 100h8v3h-8zM1327 99h5v3h-5zM1331 98h6v3h-6zM1336 97h5v3h-5zM1340 96h6v3h-6zM1345 95h5v3h-5zM1349 94h6v3h-6zM1354 93h6v3h-6zM1359 92h5v3h-5zM1363 91h4v3h-4zM1366 90h3v3h-3zM1368 89h4v3h-4zM1371 88h3v3h-3zM1373 87h5v3h-5zM1377 86h7v3h-7zM1383 85h6v3h-6zM1388 84h6v3h-6zM1393 83h7v3h-7zM1399 82h6v3h-6zM1404 81h12v3h-12zM1415 80h13v3h-13zM1427 79h9v3h-9zM1435 78h37v3h-37z" fill="#ff0000"/>
</g>
<g clip-path="url(#cs)">
<path d="M-2 375h17v3h-17zM14 376h12v3h-12zM25 377h7v3h-7zM31 378h8v3h-8zM38 379h20v3h-20zM57 378h32v3h-32zM88 377h24v3h-24zM111 376h5v3h-5zM115 375h40v3h-40zM154 376h4v3h-4zM157 377h7v3h-7zM163 378h9v3h-9zM171 379h8v3h-8zM178 380h6v3h-6zM183 381h6v3h-6zM188 382h7v3h-7zM194 383h7v3h-7zM200 384h7v3h-7zM206 385h8v3h-8zM213 386h7v3h-7zM219 387h8v3h-8zM226 388h8v3h-8zM233 389h8v3h-8zM240 390h8v3h-8zM247 391h8v3h-8zM254 392h6v3h-6zM259 393h6v3h-6zM264 394h5v3h-5zM268 395h9v3h-9zM276 396h11v3h-11zM286 397h12v3h-12zM297 398h9v3h-9zM305 397h7v3h-7zM311 396h6v3h-6zM316 395h5v3h-5zM320 394h4v3h-4zM323 393h3v3h-3zM325 392h4v3h-4zM328 391h4v3h-4zM331 390h3v3h-3zM333 389h4v3h-4zM336 388h5v3h-5zM340 387h4v3h-4zM343 386h5v3h-5zM347 385h5v3h-5zM351 384h9v3h-9zM359 383h9v3h-9zM367 382h6v3h-6zM372 381h6v3h-6zM377 380h7v3h-7zM383 379h7v3h-7zM389 378h7v3h-7zM395 377h8v3h-8zM402 376h7v3h-7zM408 375h8v3h-8zM415 374h7v3h-7zM421 373h7v3h-7zM427 372h31v3h-31zM457 373h9v3h-9zM465 374h6v3h-6zM470 375h7v3h-7zM476 376h36v3h-36zM511 375h23v3h-23zM533 376h7v3h-7zM539 377h10v3h-10zM548 378h11v3h-11zM558 379h12v3h-12zM569 380h8v3h-8zM576 381h3v3h-3zM578 382h4v3h-4zM581 383h4v3h-4zM584 384h3v3h-3zM586 385h4v3h-4zM589 386h3v3h-3zM591 387h3v3h-3zM593 388h3v3h-3zM595 389h3v3h-3zM597 390h3v3h-3zM599 391h3v3h-3zM601 392h3v3h-3zM603 393h3v3h-3zM605 394h3v3h-3zM607 395h3v3h-3zM609 396h3v3h-3zM611 397h3v3h-3zM613 398h3v3h-3zM615 399h3v3h-3zM617 400h3v3h-3zM619 401h3v3h-3zM621 402h2v3h-2zM622 403h5v3h-5zM626 404h5v3h-5zM630 405h5v3h-5zM634 406h5v3h-5zM638 407h2v3h-2zM639 406h11v3h-11zM649 405h12v3h-12zM660 404h12v3h-12zM671 403h20v3h-20zM690 402h7v3h-7zM696 401h8v3h-8zM703 400h4v3h-4zM706 399h4v3h-4zM709 398h4v3h-4zM712 397h4v3h-4zM715 396h5v3h-5zM719 395h3v3h-3zM721 394h4v3h-4zM724 393h4v3h-4zM727 392h4v3h-4zM730 391h4v3h-4zM733 390h3v3h-3zM735 389h3v3h-3zM737 388h2v3h-2zM738 387h3v3h-3zM740 386h2v3h-2zM741 385h2v3h-2zM742 384h3v3h-3zM744 383h2v3h-2zM745 382h3v3h-3zM747 381h2v3h-2zM748 380h3v3h-3zM750 379h3v3h-3zM752 378h5v3h-5zM756 377h5v3h-5zM760 376h5v3h-5zM764 375h5v3h-5zM768 376h5v3h-5zM772 377h4v3h-4zM775 378h5v3h-5zM779 379h4v3h-4zM782 380h4v3h-4zM785 381h4v3h-4zM788 382h4v3h-4zM791 383h4v3h-4zM794 384h4v3h-4zM797 385h4v3h-4zM800 386h4v3h-4zM803 387h4v3h-4zM806 388h4v3h-4zM809 389h4v3h-4zM812 390h3v3h-3zM814 391h7v3h-7zM820 392h6v3h-6zM825 393h6v3h-6zM830 394h5v3h-5zM834 395h5v3h-5zM838 396h5v3h-5zM842 397h5v3h-5zM846 398h4v3h-4zM849 399h3v3h-3zM851 400h4v3h-4zM854 401h3v3h-3zM856 402h4v3h-4zM859 403h3v3h-3zM861 404h4v3h-4zM864 405h3v3h-3zM866 406h3v3h-3zM868 407h3v3h-3zM870 408h4v3h-4zM873 409h3v3h-3zM875 410h3v3h-3zM877 411h4v3h-4zM880 412h3v3h-3zM882 413h3v3h-3zM884 414h3v3h-3zM886 415h4v3h-4zM889 416h3v3h-3zM891 417h3v3h-3zM893 418h5v3h-5zM897 419h6v3h-6zM902 420h7v3h-7zM908 421h6v3h-6zM913 420h5v3h-5zM917 419h6v3h-6zM922 418h6v3h-6zM927 417h20v3h-20zM946 418h7v3h-7zM952 419h7v3h-7zM958 420h12v3h-12zM969 421h9v3h-9zM977 422h6v3h-6zM982 423h7v3h-7zM988 424h7v3h-7zM994 425h9v3h-9zM1002 426h8v3h-8zM1009 427h6v3h-6zM1014 428h7v3h-7zM1020 429h7v3h-7zM1026 430h9v3h-9zM1034 431h8v3h-8zM1041 432h5v3h-5zM1045 433h6v3h-6zM1050 434h5v3h-5zM1054 435h3v3h-3zM1056 436h3v3h-3zM1058 437h3v3h-3zM1060 438h3v3h-3zM1062 439h3v3h-3zM1064 440h3v3h-3zM1066 441h3v3h-3zM1068 442h3v3h-3zM1070 443h4v3h-4zM1073 444h6v3h-6zM1078 445h7v3h-7zM1084 446h20v3h-20zM1103 445h18v3h-18zM1120 444h4v3h-4zM1123 443h5v3h-5zM1127 442h4v3h-4zM1130 441h4v3h-4zM1133 440h5v3h-5zM1137 439h5v3h-5zM1141 438h6v3h-6zM1146 437h6v3h-6zM1151 436h5v3h-5zM1155 435h6v3h-6zM1160 434h5v3h-5zM1164 433h8v3h-8zM1171 432h9v3h-9zM1179 431h7v3h-7zM1185 430h5v3h-5zM1189 429h6v3h-6zM1194 428h6v3h-6zM1199 427h9v3h-9zM1207 426h9v3h-9zM1215 425h11v3h-11zM1225 424h22v3h-22zM1246 425h24v3h-24zM1269 426h7v3h-7zM1275 427h7v3h-7zM1281 428h5v3h-5zM1285 429h6v3h-6zM1290 430h5v3h-5zM1294 431h12v3h-12zM1305 432h12v3h-12zM1316 433h11v3h-11zM1326 434h18v3h-18zM1343 433h5v3h-5zM1347 432h5v3h-5zM1351 431h5v3h-5zM1355 430h5v3h-5zM1359 429h5v3h-5zM1363 428h6v3h-6zM1368 427h5v3h-5zM1372 426h6v3h-6zM1377 425h5v3h-5zM1381 424h6v3h-6zM1386 423h6v3h-6zM1391 422h7v3h-7zM1397 421h7v3h-7zM1403 420h7v3h-7zM1409 419h5v3h-5zM1413 418h6v3h-6zM1418 417h6v3h-6zM1423 416h3v3h-3zM1425 415h4v3h-4zM1428 414h4v3h-4zM1431 413h4v3h-4zM1434 412h4v3h-4zM1437 411h5v3h-5zM1441 410h5v3h-5zM1445 409h5v3h-5zM1449 408h5v3h-5zM1453 407h4v3h-4zM1456 406h5v3h-5zM1460 405h5v3h-5zM1464 404h5v3h-5zM1468 403h4v3h-4z" fill="#20b2aa"/>
<path d="M-2 374h15v3h-15zM12 375h17v3h-17zM28 376h11v3h-11zM38 377h11v3h-11zM48 378h41v3h-41zM88 377h28v3h-28zM115 376h13v3h-13zM127 375h41v3h-41zM167 376h12v3h-12zM178 377h7v3h-7zM184 378h7v3h-7zM190 379h7v3h-7zM196 380h7v3h-7zM202 381h7v3h-7zM208 382h7v3h-7zM214 383h7v3h-7zM220 384h7v3h-7zM226 385h7v3h-7zM232 386h7v3h-7zM238 387h8v3h-8zM245 388h7v3h-7zM251 389h8v3h-8zM258 390h7v3h-7zM264 391h7v3h-7zM270 392h8v3h-8zM277 393h7v3h-7zM283 394h7v3h-7zM289 395h7v3h-7zM295 396h7v3h-7zM301 397h19v3h-19zM319 396h5v3h-5zM323 395h6v3h-6zM328 394h5v3h-5zM332 393h5v3h-5zM336 392h5v3h-5zM340 391h4v3h-4zM343 390h5v3h-5zM347 389h5v3h-5zM351 388h5v3h-5zM355 387h6v3h-6zM360 386h5v3h-5zM364 385h6v3h-6zM369 384h7v3h-7zM375 383h7v3h-7zM381 382h6v3h-6zM386 381h7v3h-7zM392 380h7v3h-7zM398 379h6v3h-6zM403 378h7v3h-7zM409 377h7v3h-7zM415 376h10v3h-10zM424 375h10v3h-10zM433 374h10v3h-10zM442 373h19v3h-19zM460 374h27v3h-27zM486 375h25v3h-25zM510 376h44v3h-44zM553 377h22v3h-22zM574 378h8v3h-8zM581 379h7v3h-7zM587 380h6v3h-6zM592 381h3v3h-3zM594 382h4v3h-4zM597 383h3v3h-3zM599 384h4v3h-4zM602 385h3v3h-3zM604 386h3v3h-3zM606 387h4v3h-4zM609 388h3v3h-3zM611 389h3v3h-3zM613 390h4v3h-4zM616 391h3v3h-3zM618 392h3v3h-3zM620 393h3v3h-3zM622 394h4v3h-4zM625 395h3v3h-3zM627 396h4v3h-4zM630 397h3v3h-3zM632 398h4v3h-4zM635 399h3v3h-3zM637 400h4v3h-4zM640 401h5v3h-5zM644 402h4v3h-4zM647 403h5v3h-5zM651 404h4v3h-4zM654 405h24v3h-24zM677 404h15v3h-15zM691 403h13v3h-13zM703 402h6v3h-6zM708 401h6v3h-6zM713 400h7v3h-7zM719 399h5v3h-5zM723 398h6v3h-6zM728 397h5v3h-5zM732 396h4v3h-4zM735 395h3v3h-3zM737 394h3v3h-3zM739 393h3v3h-3zM741 392h3v3h-3zM743 391h3v3h-3zM745 390h3v3h-3zM747 389h3v3h-3zM749 388h3v3h-3zM751 387h3v3h-3zM753 386h3v3h-3zM755 385h3v3h-3zM757 384h4v3h-4zM760 383h3v3h-3zM762 382h3v3h-3zM764 381h4v3h-4zM767 380h7v3h-7zM773 379h7v3h-7zM779 378h8v3h-8zM786 379h9v3h-9zM794 380h7v3h-7zM800 381h5v3h-5zM804 382h4v3h-4zM807 383h5v3h-5zM811 384h4v3h-4zM814 385h5v3h-5zM818 386h5v3h-5zM822 387h4v3h-4zM825 388h5v3h-5zM829 389h4v3h-4zM832 390h5v3h-5zM836 391h5v3h-5zM840 392h5v3h-5zM844 393h5v3h-5zM848 394h4v3h-4zM851 395h4v3h-4zM854 396h5v3h-5zM858 397h4v3h-4zM861 398h4v3h-4zM864 399h3v3h-3zM866 400h4v3h-4zM869 401h4v3h-4zM872 402h3v3h-3zM874 403h4v3h-4zM877 404h4v3h-4zM880 405h3v3h-3zM882 406h3v3h-3zM884 407h3v3h-3zM886 408h4v3h-4zM889 409h3v3h-3zM891 410h3v3h-3zM893 411h4v3h-4zM896 412h4v3h-4zM899 413h4v3h-4zM902 414h4v3h-4zM905 415h4v3h-4zM908 416h3v3h-3zM910 417h9v3h-9zM918 418h9v3h-9zM926 419h49v3h-49zM974 420h12v3h-12zM985 421h10v3h-10zM994 422h9v3h-9zM1002 423h8v3h-8zM1009 424h5v3h-5zM1013 425h6v3h-6zM1018 426h5v3h-5zM1022 427h8v3h-8zM1029 428h7v3h-7zM1035 429h7v3h-7zM1041 430h6v3h-6zM1046 431h7v3h-7zM1052 432h5v3h-5zM1056 433h5v3h-5zM1060 434h5v3h-5zM1064 435h5v3h-5zM1068 436h5v3h-5zM1072 437h4v3h-4zM1075 438h4v3h-4zM1078 439h5v3h-5zM1082 440h4v3h-4zM1085 441h5v3h-5zM1089 442h5v3h-5zM1093 443h6v3h-6zM1098 444h5v3h-5zM1102 445h12v3h-12zM1113 446h12v3h-12zM1124 445h12v3h-12zM1135 444h5v3h-5zM1139 443h5v3h-5zM1143 442h5v3h-5zM1147 441h5v3h-5zM1151 440h5v3h-5zM1155 439h6v3h-6zM1160 438h5v3h-5zM1164 437h6v3h-6zM1169 436h7v3h-7zM1175 435h6v3h-6zM1180 434h6v3h-6zM1185 433h5v3h-5zM1189 432h6v3h-6zM1194 431h6v3h-6zM1199 430h7v3h-7zM1205 429h7v3h-7zM1211 428h8v3h-8zM1218 427h7v3h-7zM1224 426h8v3h-8zM1231 425h17v3h-17zM1247 424h22v3h-22zM1268 425h15v3h-15zM1282 426h9v3h-9zM1290 427h9v3h-9zM1298 428h7v3h-7zM1304 429h7v3h-7zM1310 430h8v3h-8zM1317 431h7v3h-7zM1323 432h12v3h-12zM1334 433h20v3h-20zM1353 432h11v3h-11zM1363 431h7v3h-7zM1369 430h7v3h-7zM1375 429h6v3h-6zM1380 428h6v3h-6zM1385 427h7v3h-7zM1391 426h5v3h-5zM1395 425h6v3h-6zM1400 424h5v3h-5zM1404 423h6v3h-6zM1409 422h5v3h-5zM1413 421h6v3h-6zM1418 420h6v3h-6zM1423 419h5v3h-5zM1427 418h5v3h-5zM1431 417h5v3h-5zM1435 416h5v3h-5zM1439 415h4v3h-4zM1442 414h5v3h-5zM1446 413h4v3h-4zM1449 412h5v3h-5zM1453 411h4v3h-4zM1456 410h5v3h-5zM1460 409h5v3h-5zM1464 408h5v3h-5zM1468 407h4v3h-4z" fill="#ff0000"/>
</g>
<rect x="0" y="361" width="1491" height="1" fill="#fff"/>
<rect x="0" y="362" width="1542" height="1" fill="#000"/>
<rect x="0" y="363" width="1491" height="1" fill="#fff"/>
<rect x="1490" y="0" width="1" height="362" fill="#fff"/>
<rect x="1490" y="363" width="1" height="183" fill="#fff"/>
<rect x="0" y="545" width="1491" height="1" fill="#fff"/>
<rect x="1491" y="9" width="4" height="1" fill="#fff"/>
<rect x="1491" y="41" width="4" height="1" fill="#fff"/>
<rect x="1491" y="73" width="4" height="1" fill="#fff"/>
<rect x="1491" y="105" width="4" height="1" fill="#fff"/>
<rect x="1491" y="137" width="4" height="1" fill="#fff"/>
<rect x="1491" y="169" width="4" height="1" fill="#fff"/>
<rect x="1491" y="201" width="4" height="1" fill="#fff"/>
<rect x="1491" y="233" width="4" height="1" fill="#fff"/>
<rect x="1491" y="265" width="4" height="1" fill="#fff"/>
<rect x="1491" y="297" width="4" height="1" fill="#fff"/>
<rect x="1491" y="329" width="4" height="1" fill="#fff"/>
<rect x="1491" y="364" width="4" height="1" fill="#fff"/>
<rect x="1491" y="399" width="4" height="1" fill="#fff"/>
<rect x="1491" y="509" width="4" height="1" fill="#fff"/>
<rect x="1491" y="544" width="4" height="1" fill="#fff"/>
<rect x="-2" y="546" width="1" height="4" fill="#fff"/>
<rect x="62" y="546" width="1" height="4" fill="#fff"/>
<rect x="126" y="546" width="1" height="4" fill="#fff"/>
<rect x="190" y="546" width="1" height="4" fill="#fff"/>
<rect x="254" y="546" width="1" height="4" fill="#fff"/>
<rect x="318" y="546" width="1" height="4" fill="#fff"/>
<rect x="382" y="546" width="1" height="4" fill="#fff"/>
<rect x="446" y="546" width="1" height="4" fill="#fff"/>
<rect x="510" y="546" width="1" height="4" fill="#fff"/>
<rect x="574" y="546" width="1" height="4" fill="#fff"/>
<rect x="638" y="546" width="1" height="4" fill="#fff"/>
<rect x="702" y="546" width="1" height="4" fill="#fff"/>
<rect x="766" y="546" width="1" height="4" fill="#fff"/>
<rect x="830" y="546" width="1" height="4" fill="#fff"/>
<rect x="894" y="546" width="1" height="4" fill="#fff"/>
<rect x="958" y="546" width="1" height="4" fill="#fff"/>
<rect x="1022" y="546" width="1" height="4" fill="#fff"/>
<rect x="1086" y="546" width="1" height="4" fill="#fff"/>
<rect x="1150" y="546" width="1" height="4" fill="#fff"/>
<rect x="1214" y="546" width="1" height="4" fill="#fff"/>
<rect x="1278" y="546" width="1" height="4" fill="#fff"/>
<rect x="1342" y="546" width="1" height="4" fill="#fff"/>
<rect x="1406" y="546" width="1" height="4" fill="#fff"/>
<rect x="1470" y="546" width="1" height="4" fill="#fff"/>
<rect x="1493" y="68" width="39" height="11" fill="#778899"/>
<g>
<rect x="3" y="4" width="7" height="11" fill="#e02020"/>
<path d="M10 4h7v1h1v9h-1v1h-7z" fill="#20b8b0"/>
<rect x="4" y="5" width="13" height="9" fill="#fff"/>
<rect x="11" y="7" width="5" height="6" fill="#d0b8b8"/>
<rect x="5" y="6" width="5" height="1" fill="#d82020"/>
<rect x="5" y="9" width="5" height="1" fill="#d82020"/>
<rect x="5" y="12" width="5" height="1" fill="#d82020"/>
<rect x="11" y="6" width="5" height="1" fill="#10a098"/>
<rect x="11" y="9" width="5" height="1" fill="#10a098"/>
<rect x="11" y="12" width="5" height="1" fill="#10a098"/>
</g>
<g>
<path d="M24 4h4v4h3v7h-7z" fill="#e02020"/>
<path d="M25 5h2v4h3v5h-5z" fill="#fff"/>
<path d="M26 11h1v-1h1v1h1v1h-1v-1h-1v1h-1z" fill="#b0b0b0"/>
<rect x="29" y="4" width="5" height="3" fill="#8090a8"/>
<rect x="30" y="5" width="3" height="1" fill="#fff"/>
<path d="M32 8h3v-4h3v1h1v10h-7z" fill="#20b8b0"/>
<path d="M33 9h3v-4h2v9h-5z" fill="#c8b0b0"/>
<path d="M35 10h1v1h1v1h-1v1h-1z" fill="#f0e8e8"/>
</g>
<rect x="2" y="367" width="108" height="11" fill="#000"/>
</svg>
<div id="tx">
<div class="t" style="left:1496px;top:4px;">3502.55</div>
<div class="t" style="left:1496px;top:36px;">3433.40</div>
<div class="t" style="left:1496px;top:100px;">3295.10</div>
<div class="t" style="left:1496px;top:132px;">3225.95</div>
<div class="t" style="left:1496px;top:164px;">3156.80</div>
<div class="t" style="left:1496px;top:196px;">3087.65</div>
<div class="t" style="left:1496px;top:228px;">3018.50</div>
<div class="t" style="left:1496px;top:260px;">2949.35</div>
<div class="t" style="left:1496px;top:292px;">2880.20</div>
<div class="t" style="left:1496px;top:324px;">2811.05</div>
<div class="t" style="left:1496px;top:68px;color:#000;">3364.88</div>
<div class="t" style="left:1496px;top:363px;">100.00</div>
<div class="t" style="left:1496px;top:394px;">80.00</div>
<div class="t" style="left:1496px;top:504px;">20.00</div>
<div class="t" style="left:1496px;top:534px;">0.00</div>
<div class="t" style="left:-2px;top:549px;">12 Feb 2025</div>
<div class="t" style="left:62px;top:549px;">18 Feb 2025</div>
<div class="t" style="left:126px;top:549px;">24 Feb 2025</div>
<div class="t" style="left:190px;top:549px;">28 Feb 2025</div>
<div class="t" style="left:254px;top:549px;">6 Mar 2025</div>
<div class="t" style="left:318px;top:549px;">12 Mar 2025</div>
<div class="t" style="left:382px;top:549px;">18 Mar 2025</div>
<div class="t" style="left:446px;top:549px;">24 Mar 2025</div>
<div class="t" style="left:510px;top:549px;">28 Mar 2025</div>
<div class="t" style="left:574px;top:549px;">3 Apr 2025</div>
<div class="t" style="left:638px;top:549px;">9 Apr 2025</div>
<div class="t" style="left:702px;top:549px;">15 Apr 2025</div>
<div class="t" style="left:766px;top:549px;">22 Apr 2025</div>
<div class="t" style="left:830px;top:549px;">28 Apr 2025</div>
<div class="t" style="left:894px;top:549px;">2 May 2025</div>
<div class="t" style="left:958px;top:549px;">8 May 2025</div>
<div class="t" style="left:1022px;top:549px;">14 May 2025</div>
<div class="t" style="left:1086px;top:549px;">20 May 2025</div>
<div class="t" style="left:1150px;top:549px;">26 May 2025</div>
<div class="t" style="left:1214px;top:549px;">30 May 2025</div>
<div class="t" style="left:1278px;top:549px;">5 Jun 2025</div>
<div class="t" style="left:1342px;top:549px;">11 Jun 2025</div>
<div class="t" style="left:1406px;top:549px;">17 Jun 2025</div>
<div class="t" style="left:1470px;top:549px;">23 Jun 2025</div>
<div class="t" style="left:2px;top:367px;letter-spacing:-0.28px;">Stoch(37,3,9) 77.63 75.01</div>
<div class="t" style="left:45px;top:4px;letter-spacing:-0.07px;">XAUUSD, Daily:  Gold vs US Dollar</div>
</div>
</body></html>
